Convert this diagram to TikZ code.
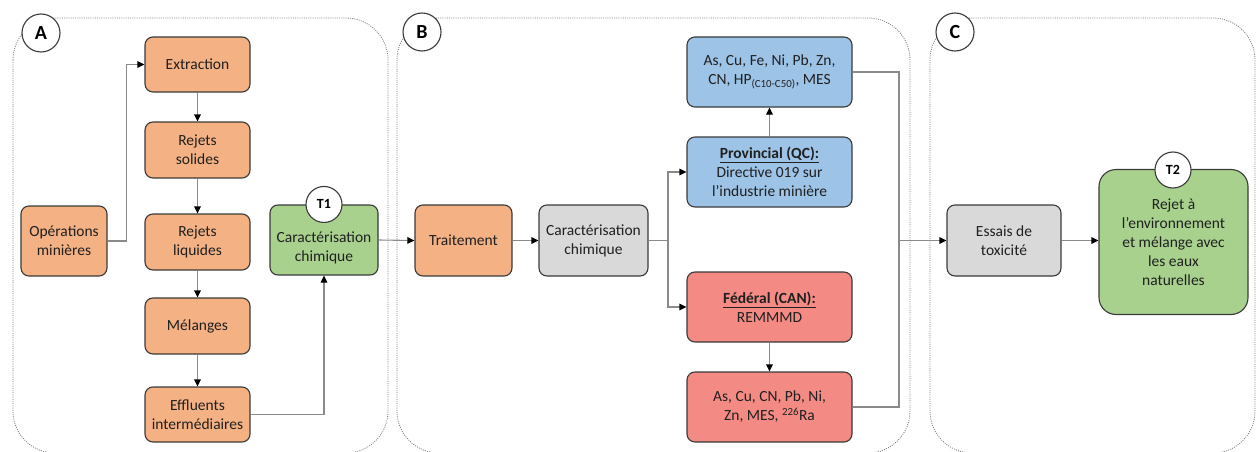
\documentclass[tikz,border=0pt]{standalone}
\usepackage{fontspec}
\setmainfont{Carlito}
\usetikzlibrary{arrows.meta}
\definecolor{orangebox}{HTML}{F4B183}
\definecolor{greenbox}{HTML}{A9D18E}
\definecolor{bluebox}{HTML}{9DC3E6}
\definecolor{redbox}{HTML}{F38B84}
\definecolor{graybox}{HTML}{D9D9D9}
\definecolor{edge}{HTML}{3A3A3A}
\definecolor{wire}{HTML}{8A8A8A}
\definecolor{ink}{HTML}{202020}
\tikzset{
  box/.style={draw=edge, line width=1.1pt, rounded corners=8pt, inner sep=0pt,
    align=center, text=ink, font=\fontsize{15.5}{19}\selectfont},
  txt/.style={align=center, text=ink, inner sep=0pt, font=\fontsize{15.5}{19}\selectfont},
  panel/.style={draw=wire!90!black, line width=0.8pt, dash pattern=on 1pt off 1.2pt, rounded corners=42pt},
  tag/.style={circle, draw=edge, line width=1.1pt, fill=white, inner sep=0pt,
    minimum size=38pt, font=\fontsize{20}{22}\selectfont\bfseries, text=black},
  ttag/.style={circle, draw=edge, line width=1.1pt, fill=white, inner sep=0pt,
    minimum size=36pt, font=\fontsize{14}{16}\selectfont\bfseries, text=black},
  arr/.style={draw=wire, line width=1.1pt, -{Triangle[length=7pt,width=6.5pt,color=black]}},
  ln/.style={draw=wire, line width=1.1pt},
}
\begin{document}
\begin{tikzpicture}[x=1pt,y=-1pt]
\useasboundingbox (0,0) rectangle (1256,452);
\begin{scope}
\clip (0,0) rectangle (1256,452);
% dotted panels
\draw[panel] (13,18) rectangle (388,453);
\draw[panel] (397,18) rectangle (910,453);
\draw[panel] (930,18) rectangle (1255,453);
\end{scope}

% panel A
\node[box, fill=orangebox, minimum width=105pt, minimum height=55pt] (ext) at (197.5,64.5) {Extraction};
\node[box, fill=orangebox, minimum width=105pt, minimum height=56pt] (sol) at (197.5,150) {Rejets\\solides};
\node[box, fill=orangebox, minimum width=105pt, minimum height=56pt] (liq) at (197.5,242) {Rejets\\liquides};
\node[box, fill=orangebox, minimum width=105pt, minimum height=56pt] (mel) at (197.5,326) {Mélanges};
\node[box, fill=orangebox, minimum width=105pt, minimum height=55pt] (eff) at (197.5,414.5) {Effluents\\intermédiaires};
\node[box, fill=orangebox, minimum width=86pt, minimum height=70pt] (ops) at (64,241) {Opérations\\minières};
\node[box, fill=greenbox, minimum width=108pt, minimum height=70pt] (t1) at (324,240) {};
\node[txt] (t1txt) at ([yshift=-8pt]t1.center) {Caractérisation\\chimique};

% panel B
\node[box, fill=orangebox, minimum width=97pt, minimum height=71pt] (trt) at (463.5,240.5) {Traitement};
\node[box, fill=graybox, minimum width=109pt, minimum height=71pt] (car) at (593.5,240.5) {Caractérisation\\chimique};
\node[box, fill=bluebox, minimum width=165pt, minimum height=70pt] (hp) at (769.5,72) {As, Cu, Fe, Ni, Pb, Zn,\\CN, HP\textsubscript{(C10-C50)}, MES};
\node[box, fill=bluebox, minimum width=165pt, minimum height=70pt] (prov) at (769.5,172) {\underline{\textbf{Provincial (QC):}}\\Directive 019 sur\\l’industrie minière};
\node[box, fill=redbox, minimum width=165pt, minimum height=70pt] (fed) at (769.5,307) {\underline{\textbf{Fédéral (CAN):}}\\REMMMD};
\node[box, fill=redbox, minimum width=165pt, minimum height=70pt] (ra) at (769.5,407) {As, Cu, CN, Pb, Ni,\\Zn, MES, \textsuperscript{226}Ra};

% panel C
\node[box, fill=graybox, minimum width=114pt, minimum height=71pt] (ess) at (1004,240.5) {Essais de\\toxicité};
\node[box, fill=greenbox, rounded corners=17pt, minimum width=149pt, minimum height=145pt] (env) at (1173.5,242) {Rejet à\\l’environnement\\et mélange avec\\les eaux\\naturelles};

% panel and step tags
\node[tag] (ta) at (41,33) {A};
\node[tag] (tb) at (422,32) {B};
\node[tag] (tc) at (955,32) {C};
\node[ttag] (tt1) at (t1.north) {T1};
\node[ttag] (tt2) at (1173,170) {T2};

% connectors, panel A
\draw[arr] (ops.east) -- ++(19,0) |- (ext.west);
\draw[arr] (ext) -- (sol);
\draw[arr] (sol) -- (liq);
\draw[arr] (liq) -- (mel);
\draw[arr] (mel) -- (eff);
\draw[arr] (eff.east) -| (t1.south);
\draw[arr] (t1.east) -- (trt.west);

% connectors, panel B
\draw[arr] (trt) -- (car);
\coordinate (split) at (668,240.5);
\draw[ln] (car.east) -- (split);
\draw[arr] (split) |- (prov.west);
\draw[arr] (split) |- (fed.west);
\draw[arr] (prov) -- (hp);
\draw[arr] (fed) -- (ra);
\coordinate (merge) at (899,240.5);
\draw[ln] (hp.east) -| (merge);
\draw[ln] (ra.east) -| (merge);
\draw[arr] (merge) -- (ess.west);

% connectors, panel C
\draw[arr] (ess.east) -- (ess.east -| env.west);
\end{tikzpicture}
\end{document}
